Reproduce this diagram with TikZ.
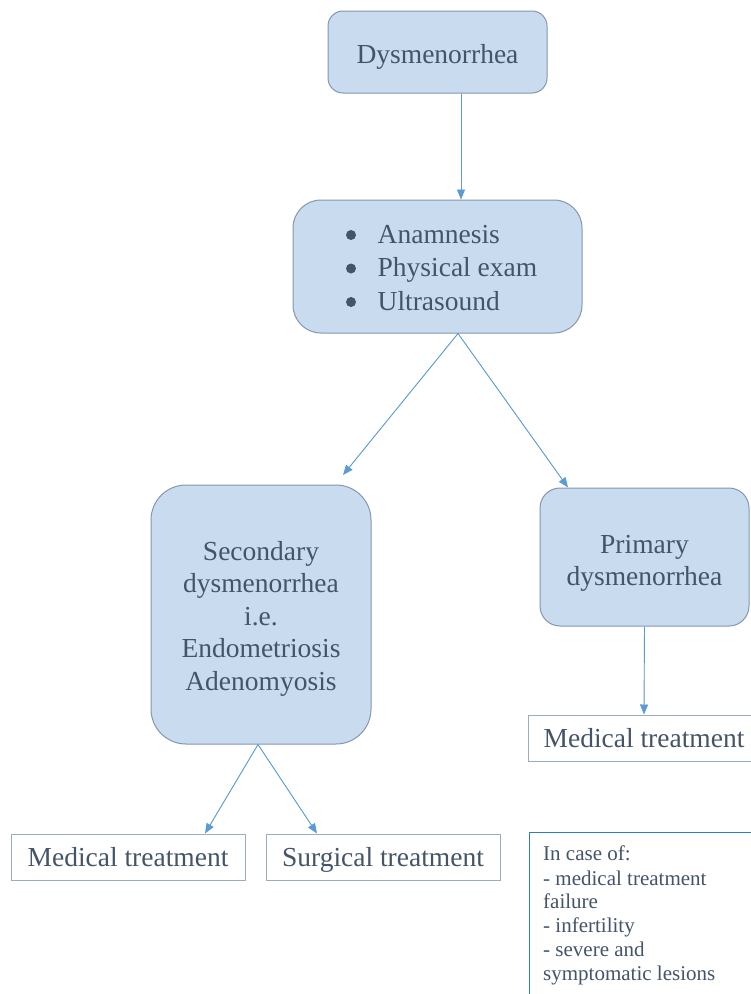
\documentclass[tikz,border=0pt]{standalone}
\usepackage{fontspec}
\setmainfont{Liberation Serif}
\usetikzlibrary{arrows.meta}
\definecolor{txt}{HTML}{44546A}
\definecolor{boxfill}{HTML}{C9DBEE}
\definecolor{boxline}{HTML}{8497B0}
\definecolor{arrowc}{HTML}{5B9BD5}
\definecolor{noteline}{HTML}{2F7BC8}
\tikzset{
  bluebox/.style={draw=boxline, fill=boxfill, line width=1pt, inner sep=0pt, align=center, text=txt,
    font=\fontsize{27.5}{34}\selectfont},
  whitebox/.style={draw=boxline!80, fill=white, line width=1pt, inner sep=0pt, align=center, text=txt,
    font=\fontsize{27.5}{34}\selectfont, minimum height=46pt, text height=19pt, text depth=0pt},
  arr/.style={draw=arrowc, line width=0.9pt, -{Triangle[width=8pt,length=10pt]}, fill=arrowc},
  dot/.style={fill=txt},
}
\begin{document}
\begin{tikzpicture}[x=1pt,y=-1pt]
\useasboundingbox (0,0) rectangle (751,994);
\clip (0,0) rectangle (751,994);
\fill[white] (0,0) rectangle (751,994);

\node[bluebox, rounded corners=15pt, minimum width=219pt, minimum height=82pt, text height=22pt, text depth=0pt] (d) at (437.5,52) {Dysmenorrhea};

\node[bluebox, rounded corners=28pt, minimum width=289pt, minimum height=133pt] (b) at (437.5,266.5)
  {\raisebox{23.5pt}[0pt][0pt]{\fontsize{27.5}{33.5}\selectfont\begin{tabular}[t]{@{\hspace{40pt}}l@{}}
   Anamnesis\\
   Physical exam\\
   Ultrasound
  \end{tabular}}};
\fill[dot] (351,235) circle[radius=5pt];
\fill[dot] (351,268.5) circle[radius=5pt];
\fill[dot] (351,302) circle[radius=5pt];

\node[bluebox, rounded corners=35pt, minimum width=220pt, minimum height=259pt] (s) at (261,614.5)
  {\raisebox{54.5pt}[0pt][0pt]{\fontsize{27.5}{32.5}\selectfont\begin{tabular}[t]{@{}c@{}}
   Secondary\\dysmenorrhea\\i.e.\\Endometriosis\\Adenomyosis\end{tabular}}};

\node[bluebox, rounded corners=20pt, minimum width=209pt, minimum height=138pt] (p) at (644.5,557)
  {\raisebox{4pt}[0pt][0pt]{\fontsize{27.5}{32}\selectfont\begin{tabular}[t]{@{}c@{}}
   Primary\\dysmenorrhea\end{tabular}}};

\node[whitebox, minimum width=232pt] (m2) at (644,738) {Medical treatment};
\node[whitebox, minimum width=234pt] (m1) at (128,857) {Medical treatment};
\node[whitebox, minimum width=234pt] (su) at (383,857) {Surgical treatment};

\node[draw=noteline, line width=1.2pt, fill=white, minimum width=300pt, minimum height=250pt, anchor=north west, inner sep=0pt] (n) at (529,832) {};
\node[anchor=north west, inner sep=0pt, align=left, text=txt, font=\fontsize{21}{24}\selectfont] (nt) at (543,846)
  {In case of:\\- medical treatment\\failure\\- infertility\\- severe and\\symptomatic lesions};

\coordinate (s1) at (343,475);

\draw[arr] ([xshift=23.5pt]d.south) -- ([xshift=23.5pt]b.north);
\draw[arr] ([xshift=20.5pt]b.south) -- (s1);
\draw[arr] ([xshift=20.5pt]b.south) -- ([xshift=-76.5pt]p.north);
\draw[arr] (p.south) -- (m2.north);
\draw[arr] ([xshift=-3pt]s.south) -- ([xshift=77pt]m1.north);
\draw[arr] ([xshift=-3pt]s.south) -- ([xshift=-66pt]su.north);
\end{tikzpicture}
\end{document}
